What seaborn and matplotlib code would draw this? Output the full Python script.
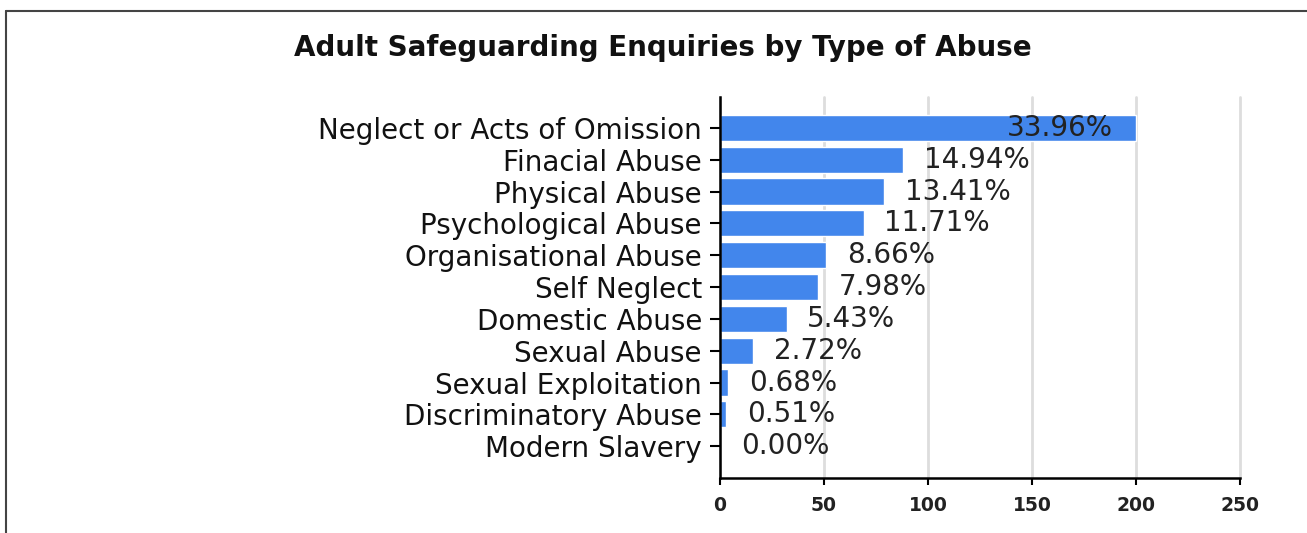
import pandas as pd
import matplotlib.pyplot as plt
import seaborn as sns
from matplotlib.lines import Line2D

# data
categories = ["Neglect or Acts of Omission", "Finacial Abuse", "Physical Abuse",
              "Psychological Abuse", "Organisational Abuse", "Self Neglect",
              "Domestic Abuse", "Sexual Abuse", "Sexual Exploitation",
              "Discriminatory Abuse", "Modern Slavery"]
counts = [200, 88, 79, 69, 51, 47, 32, 16, 4, 3, 0]
x_ticks = [0, 50, 100, 150, 200, 250]

total = sum(counts)
pct_labels = [f"{c / total * 100:.2f}%" for c in counts]
df = pd.DataFrame({"type": categories, "count": counts})

sns.set_style("white")
plt.rcParams['font.family'] = ['DejaVu Sans']

fig = plt.figure(figsize=(13.07, 5.33), dpi=100)
ax = fig.add_axes([0.5509, 0.1032, 0.3978, 0.7148])

sns.barplot(data=df, x="count", y="type", orient="h", color="#4286ec",
            saturation=1, width=0.82, ax=ax)

ax.set_xlim(0, 250)
ax.set_ylim(11.0, -0.97)
ax.set_xticks(x_ticks)
ax.grid(axis="x", color="#dddddd", linewidth=2)
for gl in ax.get_xgridlines():
    gl.set_clip_on(False)
ax.set_axisbelow(True)
ax.set_xlabel("")
ax.set_ylabel("")

for s in ["top", "right"]:
    ax.spines[s].set_visible(False)
for s in ["left", "bottom"]:
    ax.spines[s].set_color("black")
    ax.spines[s].set_linewidth(1.8)

ax.tick_params(axis="y", left=True, length=7, width=1.5, color="black",
               labelsize=20, labelcolor="#111111", pad=6)
ax.tick_params(axis="x", bottom=True, length=5, width=1.5, color="black",
               labelsize=13.5, labelcolor="#222222", pad=8)
for t in ax.get_xticklabels():
    t.set_fontweight("bold")

# value labels
for i, (c, lab) in enumerate(zip(counts, pct_labels)):
    if c > 150:
        ax.text(c - 11, i, lab, va="center", ha="right", fontsize=20, color="#222222")
    else:
        ax.text(c + 10, i, lab, va="center", ha="left", fontsize=20, color="#222222")

fig.suptitle("Adult Safeguarding Enquiries by Type of Abuse", x=0.507, y=0.937,
             fontsize=20, fontweight="bold", color="#111111")

# outer frame
fig.add_artist(Line2D([6 / 1307, 1.0], [1 - 11 / 533, 1 - 11 / 533],
                      transform=fig.transFigure, color="#444444", linewidth=1.5))
fig.add_artist(Line2D([6 / 1307, 6 / 1307], [0, 1 - 11 / 533],
                      transform=fig.transFigure, color="#444444", linewidth=1.5))

plt.savefig("out.png", dpi=100)
